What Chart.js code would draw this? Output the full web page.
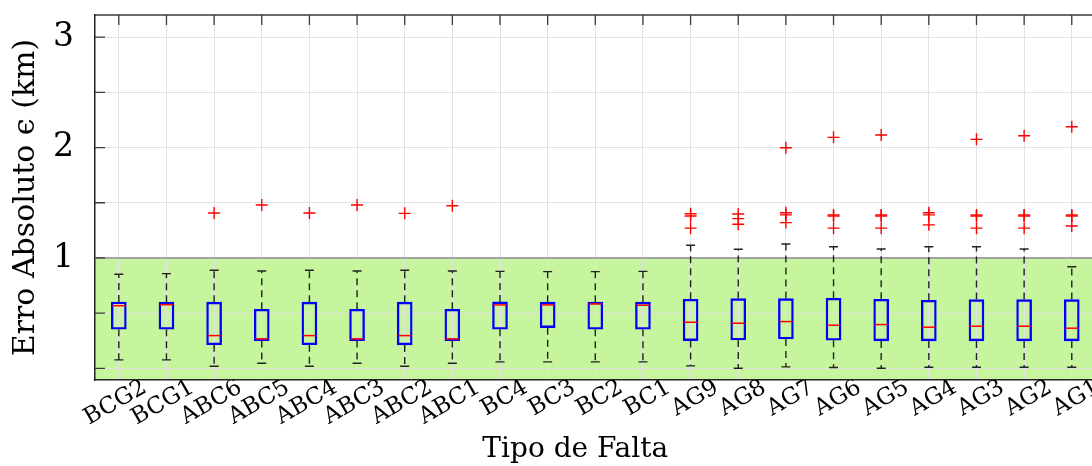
<!DOCTYPE html>
<html>
<head>
<meta charset="utf-8">
<script src="https://cdn.jsdelivr.net/npm/chart.js@4.4.0/dist/chart.umd.min.js"></script>
<style>
html, body { margin: 0; padding: 0; background: #fff; overflow: hidden; }
</style>
</head>
<body>
<canvas id="boxChart" width="1103" height="466"></canvas>
<script>
const categories = ['BCG2', 'BCG1', 'ABC6', 'ABC5', 'ABC4', 'ABC3', 'ABC2', 'ABC1', 'BC4', 'BC3', 'BC2', 'BC1',
    'AG9', 'AG8', 'AG7', 'AG6', 'AG5', 'AG4', 'AG3', 'AG2', 'AG1'];
const whiskerLow = [0.077, 0.077, 0.02, 0.047, 0.02, 0.047, 0.02, 0.047, 0.059, 0.059, 0.059, 0.059,
    0.023, 0.002, 0.014, 0.008, 0.002, 0.011, 0.011, 0.011, 0.011];
const q1 = [0.355, 0.355, 0.215, 0.252, 0.215, 0.252, 0.213, 0.252, 0.355, 0.369, 0.355, 0.355,
    0.252, 0.258, 0.267, 0.255, 0.249, 0.249, 0.249, 0.249, 0.249];
const median = [0.568, 0.577, 0.297, 0.267, 0.297, 0.267, 0.297, 0.267, 0.575, 0.575, 0.584, 0.572,
    0.418, 0.409, 0.424, 0.391, 0.397, 0.373, 0.382, 0.382, 0.364];
const q3 = [0.601, 0.60, 0.60, 0.536, 0.60, 0.536, 0.60, 0.536, 0.602, 0.60, 0.60, 0.60,
    0.626, 0.632, 0.632, 0.635, 0.626, 0.617, 0.623, 0.623, 0.623];
const whiskerHigh = [0.852, 0.858, 0.889, 0.882, 0.889, 0.882, 0.889, 0.882, 0.879, 0.876, 0.876, 0.879,
    1.115, 1.079, 1.127, 1.102, 1.081, 1.102, 1.102, 1.081, 0.921];
const outliers = [[], [], [1.407], [1.479], [1.407], [1.479], [1.404], [1.473], [], [], [], [],
    [1.40, 1.38, 1.27], [1.398, 1.356, 1.305], [1.998, 1.41, 1.39, 1.32], [2.092, 1.39, 1.38, 1.27],
    [2.113, 1.39, 1.38, 1.27], [1.41, 1.39, 1.30], [2.074, 1.39, 1.38, 1.27], [2.107, 1.39, 1.38, 1.27],
    [2.188, 1.39, 1.38, 1.29]];
const yTicks = [0, 0.5, 1, 1.5, 2, 2.5, 3];
const zoneLimit = 1;

const serif = '"DejaVu Serif", serif';

// points for the outlier crosses
const outlierPoints = [];
outliers.forEach((list, i) => list.forEach(v => outlierPoints.push({x: categories[i], y: v})));

const boxParts = {
    id: 'boxParts',
    beforeDraw(chart) {
        const {ctx, chartArea: a, scales: {y}} = chart;
        const top = y.getPixelForValue(zoneLimit);
        ctx.save();
        ctx.fillStyle = '#c6f59e';
        ctx.fillRect(a.left, top, a.right - a.left, a.bottom - top);
        ctx.restore();
    },
    beforeDatasetsDraw(chart) {
        const {ctx, chartArea: a, scales: {x, y}} = chart;
        ctx.save();
        // limit line
        ctx.strokeStyle = '#a3a3a3';
        ctx.lineWidth = 2;
        const ly = y.getPixelForValue(zoneLimit);
        ctx.beginPath();
        ctx.moveTo(a.left, ly);
        ctx.lineTo(a.right, ly);
        ctx.stroke();
        // top frame and inward ticks
        ctx.strokeStyle = '#3a3a3a';
        ctx.lineWidth = 1.3;
        ctx.beginPath();
        ctx.moveTo(a.left, a.top);
        ctx.lineTo(a.right, a.top);
        categories.forEach((c, i) => {
            const px = x.getPixelForValue(i);
            ctx.moveTo(px, a.top);
            ctx.lineTo(px, a.top + 10);
        });
        yTicks.forEach(v => {
            const py = y.getPixelForValue(v);
            ctx.moveTo(a.left, py);
            ctx.lineTo(a.left + 10, py);
        });
        ctx.stroke();
        ctx.restore();
    },
    afterDatasetsDraw(chart) {
        const {ctx, scales: {x, y}} = chart;
        const half = 7.5, cap = 4.5;
        ctx.save();
        categories.forEach((c, i) => {
            const px = x.getPixelForValue(i);
            // whiskers
            ctx.strokeStyle = '#222';
            ctx.lineWidth = 1.4;
            ctx.setLineDash([7, 5]);
            ctx.beginPath();
            ctx.moveTo(px, y.getPixelForValue(q3[i]));
            ctx.lineTo(px, y.getPixelForValue(whiskerHigh[i]));
            ctx.moveTo(px, y.getPixelForValue(q1[i]));
            ctx.lineTo(px, y.getPixelForValue(whiskerLow[i]));
            ctx.stroke();
            ctx.setLineDash([]);
            ctx.beginPath();
            ctx.moveTo(px - cap, y.getPixelForValue(whiskerHigh[i]));
            ctx.lineTo(px + cap, y.getPixelForValue(whiskerHigh[i]));
            ctx.moveTo(px - cap, y.getPixelForValue(whiskerLow[i]));
            ctx.lineTo(px + cap, y.getPixelForValue(whiskerLow[i]));
            ctx.stroke();
            // median
            ctx.strokeStyle = '#ff0000';
            ctx.lineWidth = 1.5;
            ctx.beginPath();
            ctx.moveTo(px - half + 1, y.getPixelForValue(median[i]));
            ctx.lineTo(px + half - 1, y.getPixelForValue(median[i]));
            ctx.stroke();
        });
        ctx.restore();
    },
    afterDraw(chart) {
        const {ctx, chartArea: a} = chart;
        ctx.save();
        ctx.fillStyle = '#000';
        ctx.font = '28px ' + serif;
        ctx.textAlign = 'center';
        ctx.textBaseline = 'alphabetic';
        ctx.fillText('Tipo de Falta', a.left + 0.48 * (a.right - a.left), 457);
        ctx.restore();
    }
};

new Chart(document.getElementById('boxChart'), {
    type: 'bar',
    data: {
        labels: categories,
        datasets: [{
            data: categories.map((c, i) => [q1[i], q3[i]]),
            backgroundColor: 'rgba(0,0,0,0)',
            borderColor: '#0000ff',
            borderWidth: 1.7,
            borderSkipped: false,
            barThickness: 15,
            order: 2
        }, {
            type: 'scatter',
            data: outlierPoints,
            pointStyle: 'cross',
            pointRadius: 6,
            borderColor: '#ff0000',
            backgroundColor: '#ff0000',
            borderWidth: 1.4,
            order: 1
        }]
    },
    options: {
        responsive: false,
        animation: false,
        events: [],
        layout: { padding: { top: 15, left: 0, right: 0, bottom: 0 } },
        plugins: { legend: { display: false }, tooltip: { enabled: false } },
        scales: {
            x: {
                type: 'category',
                offset: true,
                grid: { offset: false, color: '#e2e2e2', drawTicks: false },
                border: { color: '#222', width: 1.5 },
                ticks: {
                    autoSkip: false, minRotation: 30, maxRotation: 30,
                    padding: -6, labelOffset: 26,
                    color: '#000', font: { family: serif, size: 23 }
                },
                afterFit: s => { s.height = 86; s.paddingLeft = 0; s.paddingRight = 0; }
            },
            y: {
                min: -0.105,
                max: 3.2,
                grid: { color: '#e2e2e2', drawTicks: false },
                border: { color: '#222', width: 1.5 },
                afterBuildTicks: s => { s.ticks = yTicks.map(v => ({value: v})); },
                ticks: {
                    padding: 21, color: '#000', font: { family: serif, size: 33 },
                    callback: v => (v >= 1 && Number.isInteger(v)) ? String(v) : ''
                },
                title: {
                    display: true, text: 'Erro Absoluto ϵ (km)', color: '#000',
                    font: { family: serif, size: 30 }, padding: { top: 8, bottom: 0 }
                },
                afterFit: s => { s.width = 95; s.paddingTop = 0; s.paddingBottom = 0; }
            }
        }
    },
    plugins: [boxParts]
});
</script>
</body>
</html>
